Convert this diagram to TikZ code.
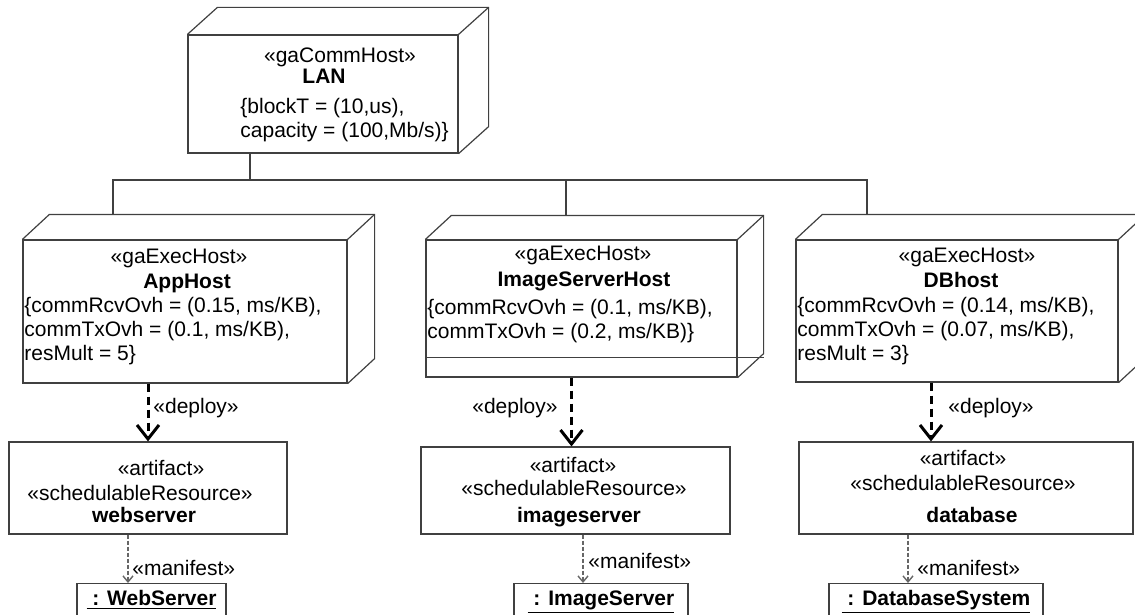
\documentclass[tikz,border=0pt]{standalone}
\usepackage{fontspec}
\setmainfont{Liberation Sans}
\usetikzlibrary{arrows.meta}

\tikzset{
  face/.style={draw=black!75, line width=0.6pt, inner sep=0pt},
  link/.style={draw=black!75, line width=0.6pt},
  txt/.style={inner sep=0pt, text height=7.7pt, text depth=2.2pt},
  props/.style={inner sep=0pt, align=left, anchor=west},
  inst/.style={face, anchor=north, inner ysep=3.3pt, text height=7.7pt, text depth=6pt},
  deploy/.style={line width=1.5pt, dash pattern=on 4pt off 2.5pt, -{Straight Barb[length=7pt,width=11pt]}},
  manifest/.style={draw=black!60, line width=0.7pt, dash pattern=on 2pt off 1pt, -{Straight Barb[length=3pt,width=5pt]}},
}

\begin{document}
\begin{tikzpicture}[x=0.5pt, y=-0.5pt, font=\fontsize{10.5}{12}\selectfont]
  \useasboundingbox (0,0) rectangle (1135,615);
  \clip (0,0) rectangle (1135,615);

  % hosts
  \node[face, minimum width=135pt, minimum height=59pt] (lan) at (323,94) {};
  \node[face, minimum width=162pt, minimum height=71.5pt] (app) at (185,311.5) {};
  \node[face, minimum width=155.5pt, minimum height=68.5pt] (img) at (581.5,308.5) {};
  \node[face, minimum width=161pt, minimum height=71pt] (db) at (957,311) {};
  \foreach \n/\dx/\dy in {lan/30/27, app/27/25, img/26/24, db/27/25} {
    \draw[link] (\n.north west) -- ++(\dx,-\dy) -| ([shift={(\dx,-\dy)}]\n.south east) -- (\n.south east);
    \draw[link] (\n.north east) -- ++(\dx,-\dy);
  }
  \draw[link] ([yshift=10pt]img.south west) -- ([xshift=13pt,yshift=10pt]img.south east);

  \node[txt] (lanst) at (340,57) {«gaCommHost»};
  \node[txt] (lanname) at (324,78) {\textbf{LAN}};
  \node[props] (lanprops) at (240,120) {\{blockT = (10,us),\\capacity = (100,Mb/s)\}};

  \node[txt] (appst) at (179,258) {«gaExecHost»};
  \node[txt] (appname) at (187,283) {\textbf{AppHost}};
  \node[props] (appprops) at (24,331) {\{commRcvOvh = (0.15, ms/KB),\\commTxOvh = (0.1, ms/KB),\\resMult = 5\}};

  \node[txt] (imgst) at (583,255) {«gaExecHost»};
  \node[txt] (imgname) at (584,281) {\textbf{ImageServerHost}};
  \node[props] (imgprops) at (427,321) {\{commRcvOvh = (0.1, ms/KB),\\commTxOvh = (0.2, ms/KB)\}};

  \node[txt] (dbst) at (967,257) {«gaExecHost»};
  \node[txt] (dbname) at (961,282) {\textbf{DBhost}};
  \node[props] (dbprops) at (797,331) {\{commRcvOvh = (0.14, ms/KB),\\commTxOvh = (0.07, ms/KB),\\resMult = 3\}};

  % communication path
  \coordinate (bus) at (250,180);
  \coordinate (appT) at ([shift={(-72,-25)}]app.north);
  \coordinate (imgT) at ([shift={(-15.5,-24)}]img.north);
  \coordinate (dbT) at ([shift={(-90,-25)}]db.north);
  \draw[link] (lan.south -| bus) -- (bus);
  \draw[link] (appT) |- (dbT |- bus) -- (dbT);
  \draw[link] (imgT) -- (imgT |- bus);

  % artifacts
  \node[face, minimum width=139pt, minimum height=46pt] (webart) at (148,488) {};
  \node[face, minimum width=154.5pt, minimum height=43.5pt] (imgart) at (575.5,490.5) {};
  \node[face, minimum width=167pt, minimum height=46pt] (dbart) at (966,488) {};

  \node[txt] (webst) at (161,470) {«artifact»};
  \node[txt] (websr) at (140,495) {«schedulableResource»};
  \node[txt] (webname) at (144,517) {\textbf{webserver}};
  \node[txt] (imgartst) at (573,467) {«artifact»};
  \node[txt] (imgsr) at (574,490) {«schedulableResource»};
  \node[txt] (imgartname) at (579,517) {\textbf{imageserver}};
  \node[txt] (dbartst) at (963,460) {«artifact»};
  \node[txt] (dbsr) at (963,485) {«schedulableResource»};
  \node[txt] (dbartname) at (972,517) {\textbf{database}};

  % instances
  \node[inst, minimum width=74.5pt] (websrv) at (151.5,583) {\underline{\textbf{~: WebServer}}};
  \node[inst, minimum width=87pt] (imgsrv) at (601,583) {\underline{\textbf{~: ImageServer}}};
  \node[inst, minimum width=107pt] (dbsys) at (936,583) {\underline{\textbf{~: DatabaseSystem}}};

  % deploy
  \coordinate (webD) at (webart.north);
  \coordinate (imgD) at ([xshift=-2pt]imgart.north);
  \coordinate (dbD) at ([xshift=-17.5pt]dbart.north);
  \draw[deploy] (webD |- app.south) -- (webD);
  \draw[deploy] (imgD |- img.south) -- (imgD);
  \draw[deploy] (dbD |- db.south) -- (dbD);
  \node[txt, anchor=west] (webdl) at (153,408) {«deploy»};
  \node[txt, anchor=east] (imgdl) at (558,408) {«deploy»};
  \node[txt, anchor=west] (dbdl) at (948,408) {«deploy»};

  % manifest
  \coordinate (webM) at ([xshift=-10pt]webart.south);
  \coordinate (imgM) at ([xshift=3.75pt]imgart.south);
  \coordinate (dbM) at ([xshift=-29pt]dbart.south);
  \draw[manifest] (webM) -- (webM |- websrv.north);
  \draw[manifest] (imgM) -- (imgM |- imgsrv.north);
  \draw[manifest] (dbM) -- (dbM |- dbsys.north);
  \node[txt, anchor=west] (webml) at (132,570) {«manifest»};
  \node[txt, anchor=west] (imgml) at (588,563) {«manifest»};
  \node[txt, anchor=west] (dbml) at (917,570) {«manifest»};
\end{tikzpicture}
\end{document}
